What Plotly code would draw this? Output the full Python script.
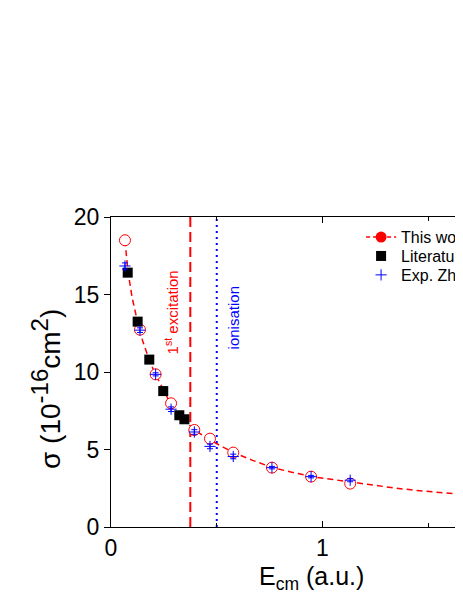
import plotly.graph_objects as go

# calculated cross sections (open red circles)
work_x = [0.066, 0.137, 0.211, 0.284, 0.394, 0.468, 0.578, 0.761, 0.946, 1.131]
work_y = [18.5, 12.73, 9.85, 7.98, 6.26, 5.70, 4.80, 3.83, 3.25, 2.80]

# dashed guide curve through the calculated points
fit_x = [0.066, 0.08, 0.10, 0.126, 0.15, 0.18, 0.21, 0.25, 0.28, 0.32, 0.35, 0.39,
         0.43, 0.47, 0.53, 0.58, 0.67, 0.76, 0.85, 0.95, 1.04, 1.13, 1.24, 1.35,
         1.46, 1.56, 1.665]
fit_y = [18.5, 16.5, 14.8, 13.2, 12.0, 10.8, 9.85, 8.8, 8.0, 7.2, 6.9, 6.3,
         5.95, 5.6, 5.15, 4.8, 4.3, 3.85, 3.55, 3.25, 3.08, 2.9, 2.68, 2.50,
         2.34, 2.22, 2.10]

# literature values (black squares)
lit_x = [0.079, 0.126, 0.181, 0.247, 0.323, 0.347]
lit_y = [16.41, 13.25, 10.8, 8.77, 7.21, 6.95]

# experiment (blue crosses with error bars)
exp_x = [0.066, 0.137, 0.211, 0.284, 0.394, 0.468, 0.578, 0.761, 0.946, 1.131]
exp_y = [16.84, 12.7, 9.85, 7.6, 6.13, 5.2, 4.55, 3.83, 3.25, 3.02]
exp_err = [0.2, 0.15, 0.1, 0.15, 0.15, 0.15, 0.15, 0.08, 0.08, 0.1]

excitation_energy = 0.375
ionisation_energy = 0.5
y_max = 20
x_max = 1.6265

font = "Arial, Liberation Sans, sans-serif"
red = "#FF0000"
blue = "#0000FF"

fig = go.Figure()

fig.add_trace(go.Scatter(
    x=fit_x, y=fit_y, mode="lines",
    line=dict(color=red, width=1.5, dash="6px,4px"),
    showlegend=False, hoverinfo="skip"))

fig.add_trace(go.Scatter(
    x=[excitation_energy, excitation_energy], y=[0, y_max], mode="lines",
    line=dict(color=red, width=2, dash="10px,5px"), showlegend=False))
fig.add_trace(go.Scatter(
    x=[ionisation_energy, ionisation_energy], y=[0, y_max], mode="lines",
    line=dict(color=blue, width=2, dash="2px,4px"), showlegend=False))

fig.add_trace(go.Scatter(
    x=work_x, y=work_y, mode="markers",
    marker=dict(symbol="circle", size=11, color="white", line=dict(color=red, width=1)),
    showlegend=False))

# legend entry for "This work" (filled marker with dashed line)
fig.add_trace(go.Scatter(
    x=[None], y=[None], mode="lines+markers", name="This work",
    line=dict(color=red, width=1.5, dash="4px,3px"),
    marker=dict(symbol="circle", size=11, color=red),
    legend="legend"))

fig.add_trace(go.Scatter(
    x=lit_x, y=lit_y, mode="markers", name="Literature",
    marker=dict(symbol="square", size=10, color="black"),
    legend="legend2"))

fig.add_trace(go.Scatter(
    x=exp_x, y=exp_y, mode="markers", name="Exp. Zhou",
    marker=dict(symbol="cross-thin", size=8, line=dict(color=blue, width=1)),
    error_y=dict(type="data", array=exp_err, color=blue, thickness=1, width=3),
    legend="legend3"))

fig.add_annotation(
    x=0.284, y=13.85, xref="x", yref="y", text="1<sup>st</sup> excitation",
    textangle=-90, showarrow=False, xanchor="center", yanchor="middle",
    font=dict(family=font, size=15, color=red))
fig.add_annotation(
    x=0.577, y=13.46, xref="x", yref="y", text="ionisation",
    textangle=-90, showarrow=False, xanchor="center", yanchor="middle",
    font=dict(family=font, size=15, color=blue))

# axis titles
sup = '<sup><span style="font-size:24px">{}</span></sup>'
fig.add_annotation(
    x=-0.1892, y=0.445, xref="paper", yref="paper",
    text="σ (10" + sup.format("-16") + "cm" + sup.format("2") + ")",
    textangle=-90, showarrow=False, xanchor="center", yanchor="middle",
    font=dict(family=font, size=28, color="black"))
fig.add_annotation(
    x=0.584, y=-0.165, xref="paper", yref="paper",
    text="E<sub>cm</sub> (a.u.)", showarrow=False,
    xanchor="center", yanchor="middle",
    font=dict(family=font, size=25, color="black"))

axis_common = dict(showgrid=False, zeroline=False, showline=True,
                   linecolor="black", linewidth=1, tickcolor="black", tickwidth=1)

legend_common = dict(x=0.727, xanchor="left", yanchor="middle",
                     bgcolor="rgba(0,0,0,0)", font=dict(family=font, size=16))

# the page body has an 8px margin, so margins are offset by 8px
fig.update_layout(
    width=447, height=583,
    margin=dict(l=103, r=0, t=209, b=64, autoexpand=False),
    paper_bgcolor="white", plot_bgcolor="white",
    font=dict(family=font, color="black"),
    # primary x axis: labels, inward ticks, minor ticks and top frame
    xaxis=dict(range=[0, x_max], dtick=1, ticks="inside", ticklen=6,
               mirror="ticks", tickfont=dict(size=23),
               minor=dict(dtick=0.5, ticks="inside", ticklen=4, tickcolor="black"),
               **axis_common),
    yaxis=dict(range=[0, y_max], dtick=5, ticks="outside", ticklen=6,
               tickfont=dict(size=23), **axis_common),
    # overlay axes give the other half of the major ticks
    xaxis2=dict(range=[0, x_max], overlaying="x", anchor="y", dtick=1,
                ticks="outside", ticklen=6, showticklabels=False, **axis_common),
    yaxis2=dict(range=[0, y_max], overlaying="y", anchor="x", dtick=5,
                ticks="inside", ticklen=6, showticklabels=False,
                minor=dict(dtick=2.5, ticks="inside", ticklen=4, tickcolor="black"),
                **axis_common),
    legend=dict(y=0.935, **legend_common),
    legend2=dict(y=0.874, **legend_common),
    legend3=dict(y=0.813, **legend_common),
)

fig.write_html("out.html")
